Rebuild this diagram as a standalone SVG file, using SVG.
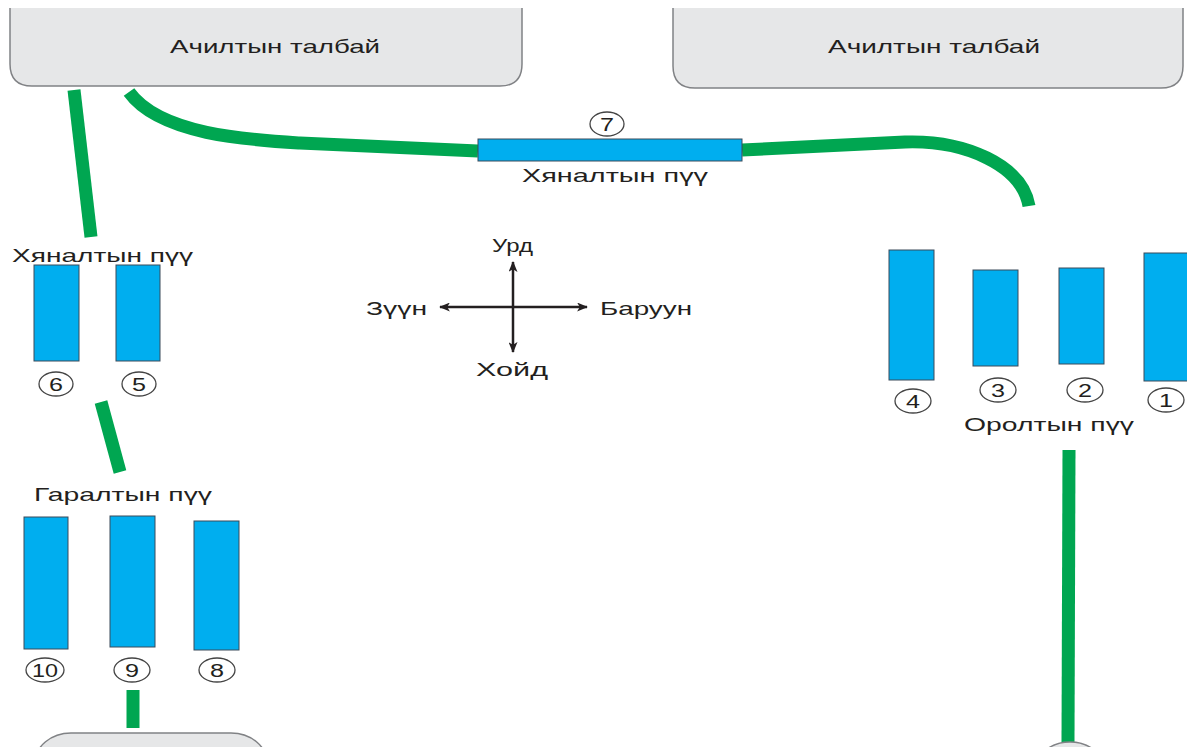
<svg xmlns="http://www.w3.org/2000/svg" width="1187" height="747" viewBox="0 0 1187 747">
<defs>
<style>
.area{fill:#e6e7e8;stroke:#808285;stroke-width:1.5}
.areafill{fill:#e6e7e8;stroke:none}
.bar{fill:#00aeef;stroke:#3a4a5a;stroke-width:1}
.num{fill:#fff;stroke:#444;stroke-width:1.3}
.t{font-family:"Liberation Sans",Arial,sans-serif;fill:#231f20}
.lbl{font-size:19px}
.n{font-size:18px;text-anchor:middle}
.green{fill:none;stroke:#00a651;stroke-width:13}
.axis{stroke:#231f20;stroke-width:2.5;fill:none}
</style>
<marker id="ah" viewBox="0 0 12 10" refX="11" refY="5" markerWidth="5" markerHeight="3.6" orient="auto-start-reverse" markerUnits="strokeWidth">
<path d="M0,0 L12,5 L0,10 L3,5 Z" fill="#231f20"/>
</marker>
</defs>
<rect width="1187" height="747" fill="#fff"/>

<g id="connectors">
<path class="green" d="M74,90 L91,237"/>
<path class="green" d="M129,92 C160,135 250,140 300,143 L478,151"/>
<path class="green" d="M742,150 L905,142 C965,140 1022,165 1029,206"/>
<path class="green" d="M101,402 L120,472"/>
<path class="green" d="M133,690 L133,728"/>
<path class="green" d="M1069,450 L1068,742"/>
</g>

<g id="area-top-left">
<path class="areafill" d="M10,8 L522,8 L522,64 Q522,86 500,86 L32,86 Q10,86 10,64 Z"/>
<path class="area" fill="none" d="M10,8 L10,64 Q10,86 32,86 L500,86 Q522,86 522,64 L522,8" style="fill:none"/>
<text class="t lbl" x="170" y="53" textLength="210" lengthAdjust="spacingAndGlyphs">Ачилтын талбай</text>
</g>
<g id="area-top-right">
<path class="areafill" d="M673,8 L1183,8 L1183,66 Q1183,88 1161,88 L695,88 Q673,88 673,66 Z"/>
<path class="area" d="M673,8 L673,66 Q673,88 695,88 L1161,88 Q1183,88 1183,66 L1183,8" style="fill:none"/>
<text class="t lbl" x="828" y="53" textLength="212" lengthAdjust="spacingAndGlyphs">Ачилтын талбай</text>
</g>
<g id="area-bottom-left">
<rect class="area" x="35" y="733" width="232" height="60" rx="36"/>
</g>
<g id="area-bottom-right">
<ellipse class="area" cx="1070" cy="762" rx="30" ry="20"/>
</g>

<g id="scale-7">
<rect class="bar" x="478" y="139" width="264" height="22"/>
<ellipse class="num" cx="607" cy="124" rx="17" ry="12"/>
<text class="t n" x="607" y="131" textLength="14" lengthAdjust="spacingAndGlyphs">7</text>
<text class="t lbl" x="522" y="182" textLength="186" lengthAdjust="spacingAndGlyphs">Хяналтын пүү</text>
</g>

<g id="control-scales">
<text class="t lbl" x="12" y="262" textLength="181" lengthAdjust="spacingAndGlyphs">Хяналтын пүү</text>
<rect class="bar" x="34" y="265" width="45" height="96"/>
<rect class="bar" x="116" y="265" width="44" height="96"/>
<ellipse class="num" cx="56" cy="384" rx="17" ry="12"/>
<text class="t n" x="56" y="391" textLength="14" lengthAdjust="spacingAndGlyphs">6</text>
<ellipse class="num" cx="139" cy="384" rx="17" ry="12"/>
<text class="t n" x="139" y="391" textLength="14" lengthAdjust="spacingAndGlyphs">5</text>
</g>

<g id="compass">
<line class="axis" x1="513" y1="352" x2="513" y2="262" marker-end="url(#ah)" marker-start="url(#ah)"/>
<line class="axis" x1="440" y1="307" x2="587" y2="307" marker-end="url(#ah)" marker-start="url(#ah)"/>
<text class="t lbl" x="492" y="252" textLength="41" lengthAdjust="spacingAndGlyphs">Урд</text>
<text class="t lbl" x="366" y="315" textLength="61" lengthAdjust="spacingAndGlyphs">Зүүн</text>
<text class="t lbl" x="600" y="315" textLength="92" lengthAdjust="spacingAndGlyphs">Баруун</text>
<text class="t lbl" x="476" y="376" textLength="72" lengthAdjust="spacingAndGlyphs">Хойд</text>
</g>

<g id="entry-scales">
<rect class="bar" x="889" y="250" width="45" height="130"/>
<rect class="bar" x="973" y="270" width="45" height="96"/>
<rect class="bar" x="1059" y="268" width="45" height="96"/>
<rect class="bar" x="1144" y="253" width="45" height="128"/>
<ellipse class="num" cx="913" cy="401" rx="18" ry="12"/>
<text class="t n" x="913" y="408" textLength="14" lengthAdjust="spacingAndGlyphs">4</text>
<ellipse class="num" cx="998" cy="390" rx="18" ry="12"/>
<text class="t n" x="998" y="397" textLength="14" lengthAdjust="spacingAndGlyphs">3</text>
<ellipse class="num" cx="1085" cy="390" rx="18" ry="12"/>
<text class="t n" x="1085" y="397" textLength="14" lengthAdjust="spacingAndGlyphs">2</text>
<ellipse class="num" cx="1166" cy="400" rx="18" ry="12"/>
<text class="t n" x="1166" y="407" textLength="14" lengthAdjust="spacingAndGlyphs">1</text>
<text class="t lbl" x="964" y="431" textLength="170" lengthAdjust="spacingAndGlyphs">Оролтын пүү</text>
</g>

<g id="exit-scales">
<text class="t lbl" x="34" y="501" textLength="178" lengthAdjust="spacingAndGlyphs">Гаралтын пүү</text>
<rect class="bar" x="24" y="517" width="44" height="132"/>
<rect class="bar" x="110" y="516" width="45" height="131"/>
<rect class="bar" x="194" y="521" width="45" height="129"/>
<ellipse class="num" cx="45" cy="670" rx="19" ry="12"/>
<text class="t n" x="45" y="677" textLength="26" lengthAdjust="spacingAndGlyphs">10</text>
<ellipse class="num" cx="132" cy="670" rx="18" ry="12"/>
<text class="t n" x="132" y="677" textLength="14" lengthAdjust="spacingAndGlyphs">9</text>
<ellipse class="num" cx="217" cy="670" rx="18" ry="12"/>
<text class="t n" x="217" y="677" textLength="14" lengthAdjust="spacingAndGlyphs">8</text>
</g>
</svg>
